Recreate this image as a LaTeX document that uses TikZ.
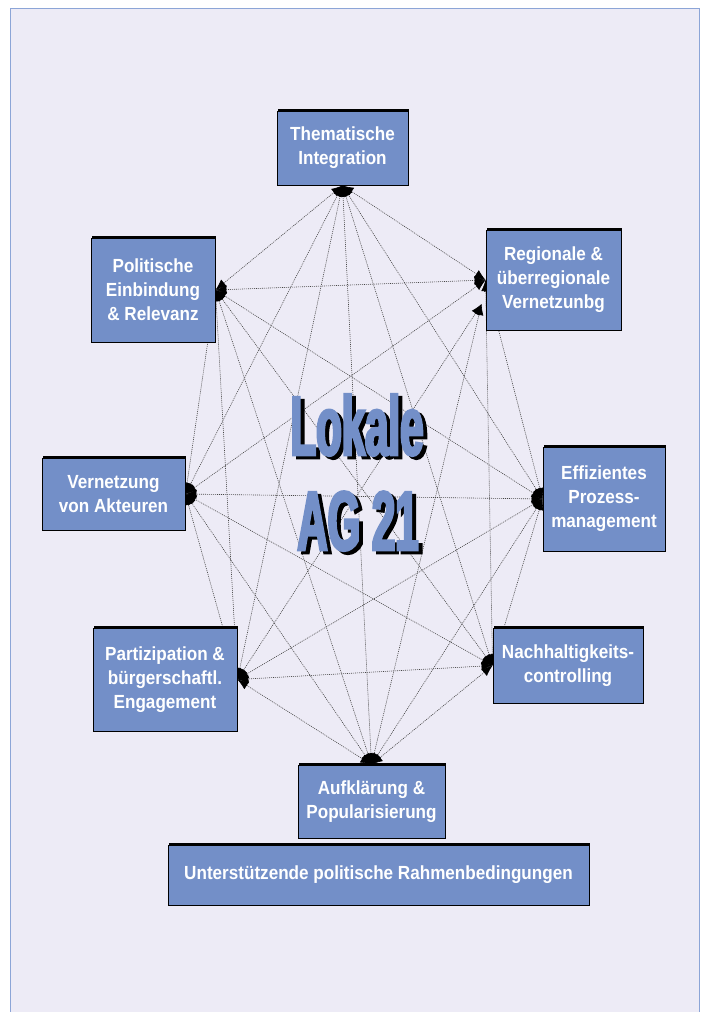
\documentclass[tikz,border=0pt]{standalone}
\usepackage{fontspec}
\usetikzlibrary{arrows.meta,shadows,calc,backgrounds}
\newfontfamily\boxfont[FakeStretch=0.9]{Liberation Sans Bold}
\newfontfamily\titlefont[FakeStretch=0.5,FakeBold=3]{Liberation Sans Bold}
\definecolor{boxblue}{RGB}{115,143,200}
\definecolor{panelbg}{RGB}{237,235,246}
\definecolor{panelline}{RGB}{140,165,215}
\definecolor{linkgray}{RGB}{70,70,70}
\tikzset{
  box/.style={draw=black, line width=0.9pt, fill=boxblue, text=white, align=center, inner sep=0pt,
    font=\boxfont\fontsize{19}{24}\selectfont,
    drop shadow={shadow xshift=1pt, shadow yshift=2pt, fill=black, opacity=1}},
  link/.style={draw=linkgray, dash pattern=on 1pt off 1pt, line width=0.6pt,
    {Latex[length=11pt,width=9pt,color=black]}-{Latex[length=11pt,width=9pt,color=black]}},
  titletext/.style={font=\titlefont\fontsize{84}{84}\selectfont, anchor=base, inner sep=0pt}
}
\begin{document}
\begin{tikzpicture}[x=1pt,y=-1pt]
\useasboundingbox (0,0) rectangle (704,1012);

% Handlungsfelder
\node[box, minimum width=131pt, minimum height=74pt] (them) at (342.5,148) {Thematische\\Integration};
\node[box, minimum width=135pt, minimum height=100pt] (reg) at (553.5,280) {Regionale \&\\überregionale\\Vernetzunbg};
\node[box, minimum width=124pt, minimum height=104pt] (pol) at (153,290) {Politische\\Einbindung\\\& Relevanz};
\node[box, minimum width=143pt, minimum height=72pt] (vern) at (113.5,494) {Vernetzung\\von Akteuren};
\node[box, minimum width=122pt, minimum height=104pt] (eff) at (604,499) {Effizientes\\Prozess-\\management};
\node[box, minimum width=144pt, minimum height=103pt] (part) at (165,679.5) {Partizipation \&\\bürgerschaftl.\\Engagement};
\node[box, minimum width=150pt, minimum height=75pt] (nach) at (568,665.5) {Nachhaltigkeits-\\controlling};
\node[box, minimum width=147pt, minimum height=73pt] (auf) at (371.5,801.5) {Aufklärung \&\\Popularisierung};
\node[box, minimum width=421pt, minimum height=60pt] (rahm) at (378.5,875) {Unterstützende politische Rahmenbedingungen};

% Andockpunkte
\coordinate (them-p) at (them.south);
\coordinate (reg-p) at (reg.west);
\coordinate (reg-q) at ($(reg.west)+(-4,24)$);
\coordinate (eff-p) at (eff.west);
\coordinate (nach-p) at (nach.west);
\coordinate (auf-p) at (auf.north);
\coordinate (part-p) at (part.east);
\coordinate (vern-p) at (vern.east);
\coordinate (pol-p) at (pol.east);

\begin{pgfonlayer}{background}
  \fill[white] (0,0) rectangle (704,1012);
  \fill[panelbg] (10,8) rectangle (699,1012);
  \draw[panelline, line width=1pt] (10,1012) -- (10,8) -- (699,8) -- (699,1012);
  % jeder mit jedem
  \foreach \a [count=\i] in {them,eff,nach,auf,part,vern,pol}
    \foreach \b [count=\j] in {them,eff,nach,auf,part,vern,pol}
      {\ifnum\i<\j \draw[link] (\a-p) -- (\b-p);\fi}
  \foreach \b in {them,eff,nach,vern,pol}
    \draw[link] (reg-p) -- (\b-p);
  \foreach \b in {auf,part}
    \draw[link] (reg-q) -- (\b-p);
\end{pgfonlayer}

% Titel mit Schatten
\node[titletext, text=black] (lok-s) at (361,458) {Lokale};
\node[titletext, text=boxblue] (lok) at (357,455) {Lokale};
\node[titletext, text=black] (ag-s) at (362,553) {AG 21};
\node[titletext, text=boxblue] (ag) at (358,550) {AG 21};
\end{tikzpicture}
\end{document}
